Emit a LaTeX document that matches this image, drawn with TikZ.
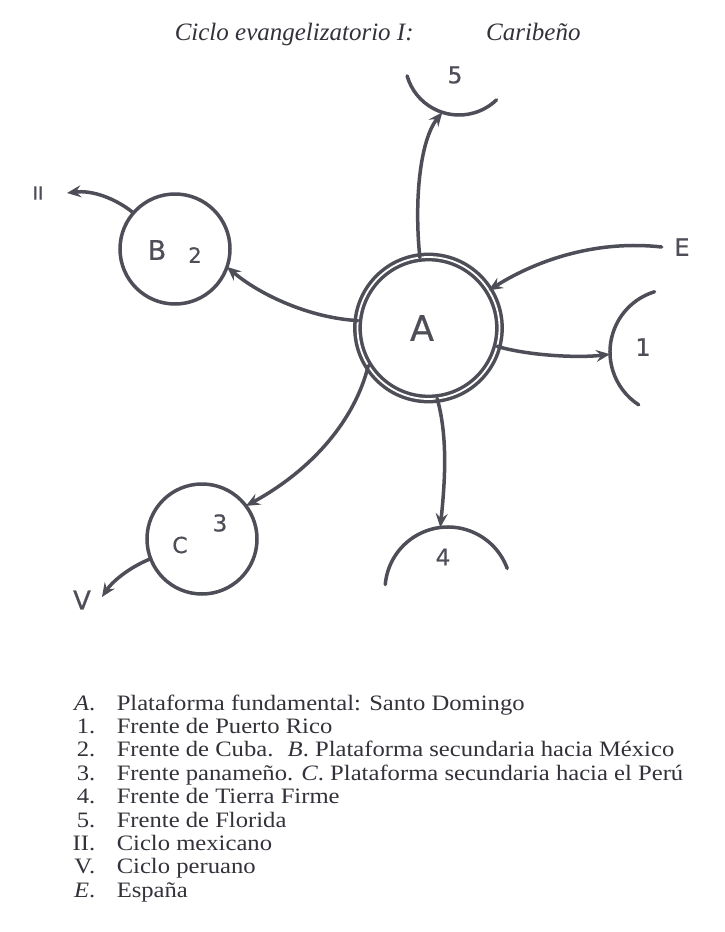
\documentclass[tikz,border=0pt]{standalone}
\usepackage{fontspec}
\setmainfont[FakeStretch=1.12]{Liberation Serif}
\newfontfamily\titlefont{Liberation Serif}
\newfontfamily\handfont[FakeBold=0.6]{DejaVu Sans}
\usetikzlibrary{arrows.meta}
\definecolor{ink}{RGB}{78,78,88}
\definecolor{txt}{RGB}{50,50,58}
\begin{document}
\begin{tikzpicture}[x=1pt,y=1pt,line width=3.5pt,
  conn/.style={draw=ink,line cap=round,-{Stealth[length=14pt,width=12pt,inset=5pt]}},
  ring/.style={circle,draw=ink,inner sep=0pt,outer sep=0pt},
  hole/.style={circle,inner sep=0pt,outer sep=0pt},
  hand/.style={text=ink,inner sep=0pt,font=\handfont\fontsize{#1}{#1}\selectfont},
  keytxt/.style={text=txt,inner sep=0pt,anchor=base west,font=\fontsize{22}{24}\selectfont},
  keynum/.style={text=txt,inner sep=0pt,anchor=base east,font=\fontsize{22}{24}\selectfont}]
\fill[white] (0,0) rectangle (725,-932);
\useasboundingbox (0,0) rectangle (725,-932);
% title
\node[text=txt,inner sep=0pt,anchor=base west,font=\titlefont\itshape\fontsize{25}{28}\selectfont] (title) at (173,-40) {Ciclo evangelizatorio I:\hspace{2.9em}Caribeño};
% main circles
\node[ring,double=white,double distance=1.8pt,minimum size=142pt] (A) at (428.5,-328) {};
\node[ring,minimum size=110pt] (B) at (175,-249) {};
\node[ring,minimum size=110pt] (C) at (202,-539) {};
% partial circles (fronts)
\node[hole,minimum size=108pt] (n5) at (459,-61) {};
\node[hole,minimum size=126pt] (n1) at (673,-352) {};
\node[hole,minimum size=126pt] (n4) at (448,-590) {};
\draw[ink,line cap=round] (n5.196) arc[start angle=196,end angle=314,radius=54];
\draw[ink,line cap=round] (n1.107) arc[start angle=107,end angle=237,radius=63];
\draw[ink,line cap=round] (n4.20) arc[start angle=20,end angle=175,radius=63];
% labels in the drawing
\node[hand=35] (lA) at (422,-328) {A};
\node[hand=27] (lB) at (157,-250) {B};
\node[hand=21] (l2) at (195,-255) {2};
\node[hand=22] (lC) at (180,-545) {C};
\node[hand=23] (l3) at (220,-523) {3};
\node[hand=23] (l5) at (455,-75) {5};
\node[hand=24] (l1) at (643,-347) {1};
\node[hand=23] (l4) at (443,-557) {4};
\node[hand=24,inner xsep=11pt] (lE) at (682,-247) {E};
\node[hand=18] (lII) at (38,-193) {II};
\node[hand=26] (lV) at (82,-600) {V};
\coordinate (IItip) at (67,-193);
\coordinate (Vtip) at (102,-597);
% connectors
\draw[conn] (A.97) .. controls (414,-200) and (420,-140) .. (n5.252);
\draw[conn] (A.174) .. controls (310,-318) and (260,-295) .. (B.341);
\draw[conn] (B.139) .. controls (115,-198) and (92,-190) .. (IItip);
\draw[conn] (A.212) .. controls (355,-420) and (312,-470) .. (C.37);
\draw[conn] (C.201) .. controls (128,-568) and (112,-582) .. (Vtip);
\draw[conn] (A.277) .. controls (449,-440) and (444,-490) .. (n4.97);
\draw[conn] (A.345) .. controls (530,-356) and (580,-358) .. (n1.182);
\draw[conn] (lE.west) .. controls (600,-240) and (540,-258) .. (A.32);
% key
\foreach \k/\t [count=\i from 0] in {
  {\textit{A}.}/{Plataforma fundamental: Santo Domingo},
  {1.}/{Frente de Puerto Rico},
  {2.}/{Frente de Cuba.\hspace{0.65em}\textit{B}. Plataforma secundaria hacia México},
  {3.}/{Frente panameño. \textit{C}. Plataforma secundaria hacia el Perú},
  {4.}/{Frente de Tierra Firme},
  {5.}/{Frente de Florida},
  {II.}/{Ciclo mexicano},
  {V.}/{Ciclo peruano},
  {\textit{E}.}/{España}}{
  \node[keynum] (k\i) at (97,-710-23.4*\i) {\k};
  \node[keytxt] (t\i) at (115,-710-23.4*\i) {\t};
}
\end{tikzpicture}
\end{document}
